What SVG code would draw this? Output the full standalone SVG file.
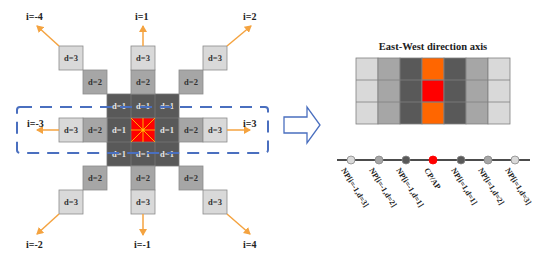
<svg xmlns="http://www.w3.org/2000/svg" width="550" height="259" viewBox="0 0 550 259">
<defs>
<style>
.c3{fill:#d9d9d9;stroke:#8c8c8c;stroke-width:0.8}
.c2{fill:#a6a6a6;stroke:#8c8c8c;stroke-width:0.8}
.c1{fill:#595959;stroke:#777;stroke-width:0.8}
.t{font-family:"Liberation Serif",serif;font-weight:bold;font-size:8.5px;text-anchor:middle;fill:#333}
.tl{font-family:"Liberation Serif",serif;font-weight:bold;font-size:8.5px;text-anchor:middle;fill:#e6e6e6}
.lab{font-family:"Liberation Serif",serif;font-weight:bold;font-size:10px;fill:#222}
.arr{stroke:#f4a340;stroke-width:1.5;fill:none;marker-end:url(#ah)}
.ray{stroke:#ffc000;stroke-width:0.9}
.np{font-family:"Liberation Serif",serif;font-weight:bold;font-size:8px;fill:#222}
</style>
<marker id="ah" markerWidth="8" markerHeight="8" refX="6" refY="4" orient="auto" markerUnits="userSpaceOnUse">
<path d="M0,0 L7,4 L0,8 Z" fill="#f4a340"/>
</marker>
</defs>
<rect width="550" height="259" fill="#fff"/>

<g id="center">
<rect x="107" y="94" width="72" height="72" class="c1"/>
<rect x="131" y="94" width="24" height="72" class="c1"/>
<rect x="107" y="118" width="72" height="24" class="c1"/>
<rect x="131" y="118" width="24" height="24" fill="#ff0000" stroke="#777" stroke-width="0.8"/>
<line x1="131" y1="118" x2="155" y2="142" class="ray"/>
<line x1="155" y1="118" x2="131" y2="142" class="ray"/>
<line x1="143" y1="118" x2="143" y2="142" class="ray"/>
<line x1="131" y1="130" x2="155" y2="130" class="ray"/>
<circle cx="143" cy="130" r="1.5" fill="#ffc000"/>
<text x="119" y="109" class="tl">d=1</text>
<text x="143" y="109" class="tl">d=1</text>
<text x="167" y="109" class="tl">d=1</text>
<text x="119" y="133" class="tl">d=1</text>
<text x="167" y="133" class="tl">d=1</text>
<text x="119" y="157" class="tl">d=1</text>
<text x="143" y="157" class="tl">d=1</text>
<text x="167" y="157" class="tl">d=1</text>
</g>

<g id="up">
<rect x="131" y="70" width="24" height="24" class="c2"/><text x="143" y="85" class="t">d=2</text>
<rect x="131" y="46" width="24" height="24" class="c3"/><text x="143" y="61" class="t">d=3</text>
</g>
<g id="down">
<rect x="131" y="166" width="24" height="24" class="c2"/><text x="143" y="181" class="t">d=2</text>
<rect x="131" y="190" width="24" height="24" class="c3"/><text x="143" y="205" class="t">d=3</text>
</g>
<g id="left">
<rect x="83" y="118" width="24" height="24" class="c2"/><text x="95" y="133" class="t">d=2</text>
<rect x="59" y="118" width="24" height="24" class="c3"/><text x="71" y="133" class="t">d=3</text>
</g>
<g id="right">
<rect x="179" y="118" width="24" height="24" class="c2"/><text x="191" y="133" class="t">d=2</text>
<rect x="203" y="118" width="24" height="24" class="c3"/><text x="215" y="133" class="t">d=3</text>
</g>
<g id="upleft">
<rect x="83" y="70" width="24" height="24" class="c2"/><text x="95" y="85" class="t">d=2</text>
<rect x="59" y="46" width="24" height="24" class="c3"/><text x="71" y="61" class="t">d=3</text>
</g>
<g id="upright">
<rect x="179" y="70" width="24" height="24" class="c2"/><text x="191" y="85" class="t">d=2</text>
<rect x="203" y="46" width="24" height="24" class="c3"/><text x="215" y="61" class="t">d=3</text>
</g>
<g id="downleft">
<rect x="83" y="166" width="24" height="24" class="c2"/><text x="95" y="181" class="t">d=2</text>
<rect x="59" y="190" width="24" height="24" class="c3"/><text x="71" y="205" class="t">d=3</text>
</g>
<g id="downright">
<rect x="179" y="166" width="24" height="24" class="c2"/><text x="191" y="181" class="t">d=2</text>
<rect x="203" y="190" width="24" height="24" class="c3"/><text x="215" y="205" class="t">d=3</text>
</g>

<g id="connectors">
<line x1="143" y1="46" x2="143" y2="26" class="arr"/>
<line x1="59" y1="46" x2="37" y2="26" class="arr"/>
<line x1="227" y1="46" x2="251" y2="26" class="arr"/>
<line x1="59" y1="130" x2="37" y2="130" class="arr"/>
<line x1="227" y1="130" x2="250" y2="130" class="arr"/>
<line x1="143" y1="214" x2="143" y2="235" class="arr"/>
<line x1="59" y1="214" x2="37" y2="234" class="arr"/>
<line x1="227" y1="214" x2="250" y2="234" class="arr"/>
</g>

<g id="labels">
<text x="26" y="20" class="lab">i=-4</text>
<text x="135" y="20" class="lab">i=1</text>
<text x="243" y="20" class="lab">i=2</text>
<text x="27" y="127" class="lab">i=-3</text>
<text x="243" y="127" class="lab">i=3</text>
<text x="26" y="248" class="lab">i=-2</text>
<text x="134" y="248" class="lab">i=-1</text>
<text x="243" y="248" class="lab">i=4</text>
</g>

<g id="selection">
<rect x="17" y="107" width="251" height="46" rx="3" fill="none" stroke="#4a6fbf" stroke-width="2" stroke-dasharray="12,8"/>
</g>

<g id="bigarrow">
<path d="M284,117 L307,117 L307,107 L320,125 L307,143 L307,133 L284,133 Z" fill="#fff" stroke="#4a6fbf" stroke-width="1.3"/>
</g>

<g id="ewgrid">
<text x="433" y="50" font-family="'Liberation Serif',serif" font-weight="bold" font-size="10.5" text-anchor="middle" fill="#222">East-West direction axis</text>
<g stroke="#808080" stroke-width="0.8">
<rect x="356" y="58" width="22" height="66" fill="#d9d9d9"/>
<rect x="378" y="58" width="22" height="66" fill="#a6a6a6"/>
<rect x="400" y="58" width="22" height="66" fill="#595959"/>
<rect x="422" y="58" width="22" height="66" fill="#ff6600"/>
<rect x="422" y="80" width="22" height="22" fill="#ff0000"/>
<rect x="444" y="58" width="22" height="66" fill="#595959"/>
<rect x="466" y="58" width="22" height="66" fill="#a6a6a6"/>
<rect x="488" y="58" width="22" height="66" fill="#d9d9d9"/>
<line x1="356" y1="80" x2="510" y2="80"/>
<line x1="356" y1="102" x2="510" y2="102"/>
</g>
</g>

<g id="axis">
<line x1="337" y1="160" x2="530" y2="160" stroke="#111" stroke-width="1.5"/>
<g stroke="#888" stroke-width="0.8">
<circle cx="351" cy="160" r="4" fill="#d9d9d9"/>
<circle cx="379" cy="160" r="4" fill="#a6a6a6"/>
<circle cx="406" cy="160" r="4" fill="#595959"/>
<circle cx="433" cy="160" r="4" fill="#ff0000" stroke="#ff0000"/>
<circle cx="461" cy="160" r="4" fill="#595959"/>
<circle cx="488" cy="160" r="4" fill="#a6a6a6"/>
<circle cx="515" cy="160" r="4" fill="#d9d9d9"/>
</g>
<text class="np" transform="translate(341,170) rotate(58)">NP[i=-1,d=3]</text>
<text class="np" transform="translate(369,170) rotate(58)">NP[i=-1,d=2]</text>
<text class="np" transform="translate(396,170) rotate(58)">NP[i=-1,d=1]</text>
<text class="np" transform="translate(424,170) rotate(58)">CP/AP</text>
<text class="np" transform="translate(451,170) rotate(58)">NP[i=1,d=1]</text>
<text class="np" transform="translate(478,170) rotate(58)">NP[i=1,d=2]</text>
<text class="np" transform="translate(505,170) rotate(58)">NP[i=1,d=3]</text>
</g>
</svg>
